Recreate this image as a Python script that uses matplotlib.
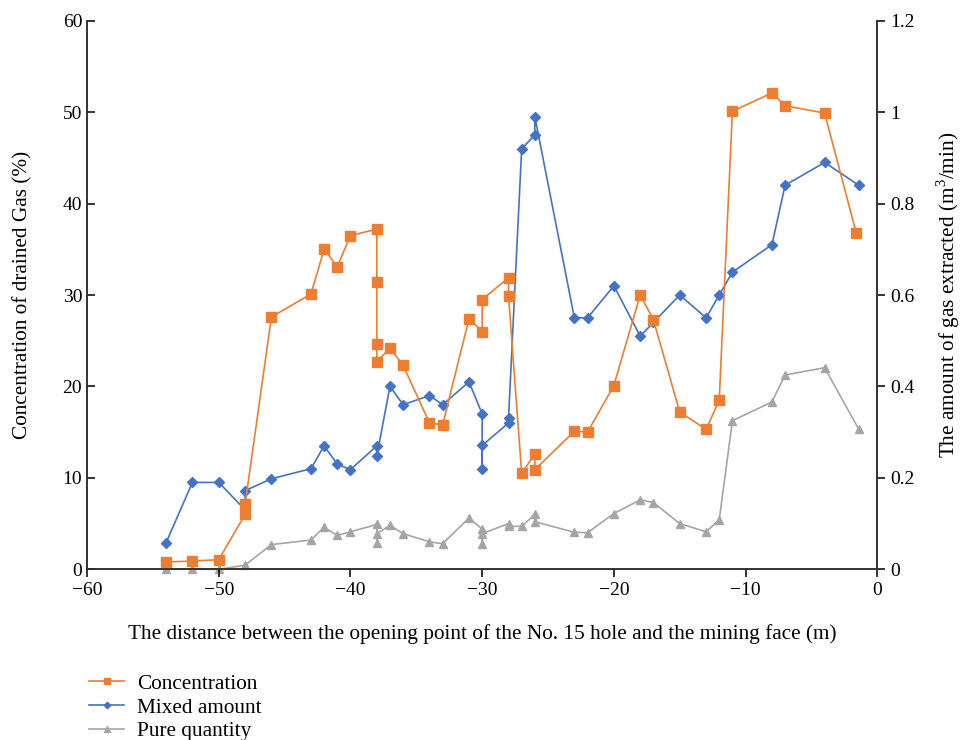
import matplotlib.pyplot as plt
from matplotlib.ticker import FuncFormatter

plt.rcParams['font.family'] = ['Liberation Serif', 'DejaVu Serif']
plt.rcParams['mathtext.fontset'] = 'custom'
plt.rcParams['mathtext.rm'] = 'Liberation Serif'

# Concentration of drained gas (%), left axis
conc_x = [-54, -52, -50, -48, -48, -46, -43, -42, -41, -40, -38, -38, -38, -38,
          -37, -36, -34, -33, -31, -30, -30, -28, -28, -27, -26, -26, -23, -22,
          -20, -18, -17, -15, -13, -12, -11, -8, -7, -4, -1.6]
conc_y = [0.8, 0.9, 1.05, 6.0, 7.1, 27.6, 30.1, 35.0, 33.1, 36.5, 37.2, 31.4, 24.6, 22.7,
          24.2, 22.3, 16.0, 15.8, 27.4, 26.0, 29.5, 31.9, 29.9, 10.5, 12.6, 10.9, 15.1, 15.0,
          20.1, 30.0, 27.3, 17.2, 15.3, 18.5, 50.1, 52.1, 50.7, 49.9, 36.8]

# Mixed and pure amount of gas extracted (m3/min), right axis
flow_x = [-54, -52, -50, -48, -48, -46, -43, -42, -41, -40, -38, -38, -37, -36,
          -34, -33, -31, -30, -30, -30, -28, -28, -27, -26, -26, -23, -22, -20,
          -18, -17, -15, -13, -12, -11, -8, -7, -4, -1.4]
mixed = [0.058, 0.19, 0.19, 0.13, 0.172, 0.198, 0.22, 0.27, 0.23, 0.218, 0.27, 0.248, 0.40, 0.36,
         0.38, 0.36, 0.41, 0.34, 0.22, 0.271, 0.32, 0.33, 0.92, 0.95, 0.99, 0.55, 0.55, 0.62,
         0.51, 0.54, 0.60, 0.55, 0.60, 0.65, 0.71, 0.84, 0.89, 0.84]

pure_x = [-54, -52, -50, -48, -46, -43, -42, -41, -40, -38, -38, -38, -37, -36,
          -34, -33, -31, -30, -30, -30, -28, -28, -27, -26, -26, -23, -22, -20,
          -18, -17, -15, -13, -12, -11, -8, -7, -4, -1.4]
pure = [0.0, 0.0, 0.0, 0.009, 0.054, 0.064, 0.092, 0.074, 0.082, 0.098, 0.058, 0.078, 0.096, 0.078,
        0.06, 0.056, 0.112, 0.088, 0.056, 0.078, 0.1, 0.094, 0.094, 0.12, 0.104, 0.081, 0.08, 0.122,
        0.152, 0.146, 0.1, 0.082, 0.108, 0.325, 0.366, 0.425, 0.441, 0.306]

fig = plt.figure(figsize=(9.65, 7.4), dpi=100)
ax = fig.add_axes([0.0902, 0.2307, 0.8189, 0.7413])
ax2 = ax.twinx()

l1, = ax.plot(conc_x, conc_y, color='#ED7D31', lw=1.2, marker='s', ms=6.5,
              label='Concentration', clip_on=False)
l2, = ax2.plot(flow_x, mixed, color='#4472C4', lw=1.2, marker='D', ms=5,
               label='Mixed amount', clip_on=False)
l3, = ax2.plot(pure_x, pure, color='#A5A5A5', lw=1.2, marker='^', ms=6,
               label='Pure quantity', clip_on=False)
ax.set_zorder(ax2.get_zorder() + 1)
ax.patch.set_visible(False)

ax.set_xlim(-60, 0)
ax.set_ylim(0, 60)
ax2.set_ylim(0, 1.2)
ax.set_xticks(range(-60, 1, 10))
ax.set_yticks(range(0, 61, 10))
ax2.set_yticks([0, 0.2, 0.4, 0.6, 0.8, 1.0, 1.2])
ax2.yaxis.set_major_formatter(FuncFormatter(lambda v, p: f'{v:g}'))

for a in (ax, ax2):
    a.spines['top'].set_visible(False)
    for s in a.spines.values():
        s.set_color('#333333')
        s.set_linewidth(1.2)
ax.tick_params(axis='y', direction='in', length=6, labelsize=14, width=1.1)
ax.tick_params(axis='x', direction='out', length=6, labelsize=14, width=1.1)
ax2.tick_params(axis='y', direction='out', length=6, labelsize=14, width=1.1)

ax.set_xlabel('The distance between the opening point of the No. 15 hole and the mining face (m)',
              fontsize=15.3, labelpad=18)
ax.set_ylabel('Concentration of drained Gas (%)', fontsize=15.3, labelpad=22)
ax2.set_ylabel('The amount of gas extracted (m$^3$/min)', fontsize=15.3, labelpad=14)

fig.legend(handles=[l1, l2, l3], loc='upper left', bbox_to_anchor=(0.088, 0.095),
           frameon=False, fontsize=15.3, handlelength=1.65, labelspacing=0.18,
           handletextpad=0.6, markerscale=0.65, borderaxespad=0, borderpad=0.2)

fig.savefig('out.png', dpi=100)
